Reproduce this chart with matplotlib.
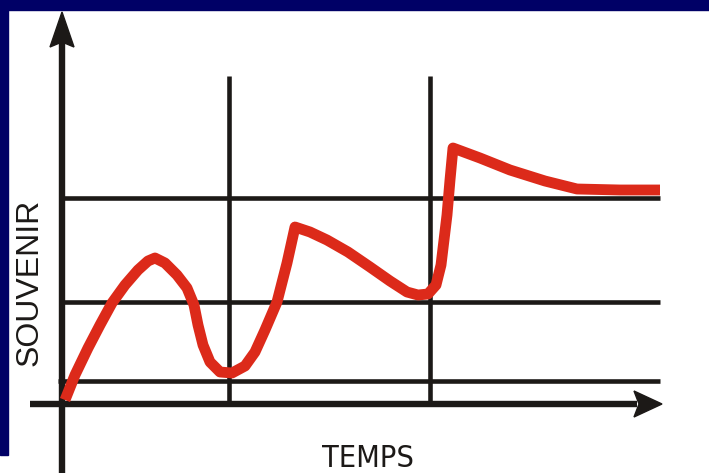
import numpy as np
import matplotlib.pyplot as plt
from matplotlib.patches import Rectangle

# Courbe du souvenir (temps, niveau de souvenir), origine = croisement des axes
temps = np.array([3, 13, 26, 38, 50, 63, 76, 86, 93, 103, 115, 125, 132, 136, 141, 148,
                  158, 170, 183, 193, 203, 215, 225, 233, 248, 265, 286, 308, 328,
                  345, 356, 366, 374, 379, 382, 385, 388, 391, 418, 448, 483, 515,
                  558, 598])
souvenir = np.array([4, 29, 56, 79, 101, 119, 134, 143, 146, 141, 129, 116, 99, 79, 59, 42,
                     32, 31, 38, 52, 74, 102, 141, 177, 172, 164, 152, 137, 123,
                     112, 109, 110, 119, 139, 164, 189, 224, 256, 246, 234, 223, 215,
                     214, 214])

niveaux = [23, 102, 206]        # lignes horizontales
reperes = [167, 368]            # lignes verticales
haut_reperes = 328
fin_temps = 598

noir = '#1c1917'
rouge = '#dc2a1a'
bleu = '#000066'

fig = plt.figure(figsize=(7.09, 4.73), dpi=100)
fig.patch.set_facecolor('white')
# bandeau bleu (haut et gauche)
fig.patches.append(Rectangle((0, 1 - 10 / 473), 1, 10 / 473, transform=fig.transFigure,
                             color=bleu, zorder=0))
fig.patches.append(Rectangle((0, 18 / 473), 8 / 709, 1, transform=fig.transFigure,
                             color=bleu, zorder=0))

ax = fig.add_axes([0, 0, 1, 1])
ax.set_xlim(-62, 647)
ax.set_ylim(-69, 404)
ax.axis('off')

for n in niveaux:
    ax.plot([-4 if n == niveaux[0] else 0, fin_temps], [n, n], color=noir, lw=3.3,
            solid_capstyle='butt', zorder=2)
for r in reperes:
    ax.plot([r, r], [0, haut_reperes], color=noir, lw=3.3, solid_capstyle='butt', zorder=2)

# axes avec fleches
ax.plot([0, 0], [-69, 370], color=noir, lw=4.6, solid_capstyle='butt', zorder=3)
ax.fill([-12, 0, 12, 0], [357, 392, 357, 362], color=noir, zorder=3)
ax.plot([-32, 575], [0, 0], color=noir, lw=4.6, solid_capstyle='butt', zorder=3)
ax.fill([572, 600, 572, 577], [-13, 0, 13, 0], color=noir, zorder=3)

ax.plot(temps, souvenir, color=rouge, lw=7.8, solid_joinstyle='round',
        solid_capstyle='butt', zorder=4)

ax.text(-32, 122, 'SOUVENIR', rotation=90, ha='center', va='center',
        fontsize=23, family='Liberation Sans', color=noir)
ax.text(306, -54, 'TEMPS', ha='center', va='center',
        fontsize=22, family='DejaVu Sans', fontstretch='condensed', color=noir)

fig.savefig('out.png', dpi=100)
